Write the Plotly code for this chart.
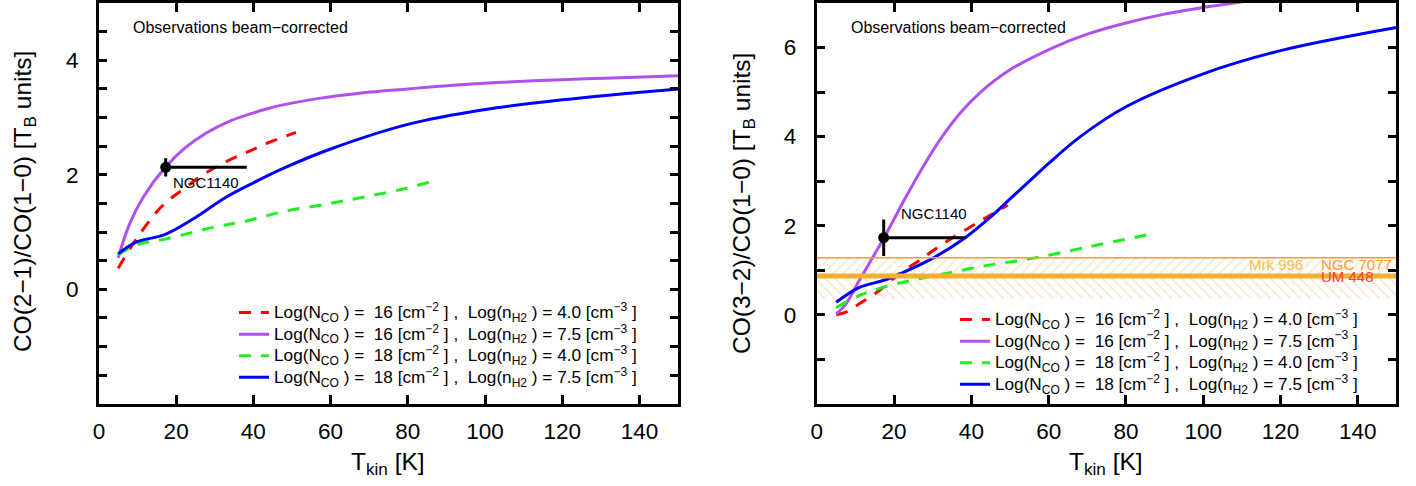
import plotly.graph_objects as go

FONT = "Liberation Sans, Arial, Helvetica, sans-serif"
W, H = 1416, 486

# ---------------- data ----------------
# Left panel: CO(2-1)/CO(1-0)
t21_red = [5, 9.4, 16.3, 22.1, 26.7, 32.4, 38.2, 43.9, 51]
r21_red = [0.37, 0.85, 1.45, 1.76, 1.99, 2.21, 2.39, 2.56, 2.74]
t21_purple = [5, 7.7, 11.6, 17.2, 22.3, 27.8, 33.6, 40, 45, 56.6, 68, 80, 91, 103, 114, 126, 137, 150]
r21_purple = [0.55, 1.10, 1.62, 2.13, 2.47, 2.73, 2.93, 3.08, 3.18, 3.33, 3.43, 3.50, 3.56, 3.61, 3.645, 3.675, 3.70, 3.73]
t21_green = [5, 10, 18, 30, 38, 48, 60, 70, 80, 87.5]
r21_green = [0.60, 0.78, 0.89, 1.09, 1.19, 1.36, 1.50, 1.63, 1.77, 1.91]
t21_blue = [5, 9.5, 17.2, 24.9, 32.7, 40, 48, 60, 80, 100, 120, 150]
r21_blue = [0.62, 0.82, 0.96, 1.25, 1.60, 1.86, 2.12, 2.45, 2.88, 3.14, 3.31, 3.50]

# Right panel: CO(3-2)/CO(1-0)
t32_red = [5, 7.5, 10.9, 16.1, 21.2, 26.4, 32.4, 39.3, 44.4, 49.4]
r32_red = [0.0, 0.06, 0.24, 0.54, 0.91, 1.21, 1.58, 1.95, 2.21, 2.46]
t32_purple = [5, 7.5, 10.9, 14.4, 17.4, 22.9, 27, 31.8, 37, 42.4, 50, 61.2, 70, 80, 90, 100, 108, 112]
r32_purple = [0.02, 0.24, 0.76, 1.28, 1.73, 2.62, 3.25, 3.92, 4.52, 5.0, 5.5, 6.0, 6.3, 6.55, 6.75, 6.9, 7.0, 7.05]
t32_green = [5, 10.9, 16.9, 23.8, 32.4, 43.6, 55.3, 70.6, 87]
r32_green = [0.16, 0.43, 0.61, 0.76, 0.91, 1.10, 1.26, 1.53, 1.82]
t32_blue = [5, 10.9, 17.6, 22.1, 29.8, 38.4, 45.3, 50, 55, 60, 68.2, 80, 100, 120, 150]
r32_blue = [0.28, 0.61, 0.78, 0.94, 1.26, 1.73, 2.22, 2.6, 3.0, 3.4, 4.0, 4.67, 5.41, 5.93, 6.45]

# NGC1140 observation
obs_name = "NGC1140"
obs_t = 17.3
obs_t_err_plus = 21.0
obs_t_err_minus = 0.0
obs_r21, obs_r21_err = 2.13, 0.16
obs_r32, obs_r32_err = 1.73, 0.41

# Other galaxies (CO(3-2)/CO(1-0))
ngc7077_r32 = 1.28
um448_r32 = 0.87
mrk996_upper_band = [um448_r32, 1.28]
mrk996_lower_band = [0.36, um448_r32]
band_labels = ["Mrk 996", "NGC 7077", "UM 448"]

LEG_FS = 17.2
def leg(s):
    return f'<span style="font-size:{LEG_FS}px">{s}</span>'

legend_names = [
    leg("Log(N<sub>CO</sub> ) =  16 [cm<sup>−2</sup> ] ,  Log(n<sub>H2</sub> ) = 4.0 [cm<sup>−3</sup> ]"),
    leg("Log(N<sub>CO</sub> ) =  16 [cm<sup>−2</sup> ] ,  Log(n<sub>H2</sub> ) = 7.5 [cm<sup>−3</sup> ]"),
    leg("Log(N<sub>CO</sub> ) =  18 [cm<sup>−2</sup> ] ,  Log(n<sub>H2</sub> ) = 4.0 [cm<sup>−3</sup> ]"),
    leg("Log(N<sub>CO</sub> ) =  18 [cm<sup>−2</sup> ] ,  Log(n<sub>H2</sub> ) = 7.5 [cm<sup>−3</sup> ]"),
]
x_range = [0, 150]
x_ticks = [0, 20, 40, 60, 80, 100, 120, 140]
y21_range = [-2, 5]
y32_range = [-2, 7]

# ---------------- styling ----------------
RED, PURPLE, GREEN, BLUE = "#FF0000", "#B050F0", "#22EE22", "#0000FF"
styles = [
    dict(color=RED, width=3, dash="12px,10px"),
    dict(color=PURPLE, width=3, dash="solid"),
    dict(color=GREEN, width=3, dash="12px,10px"),
    dict(color=BLUE, width=3, dash="solid"),
]
TITLE_FS = 24.5
TICK_FS = 22.5

fig = go.Figure()

# hatched bands (right panel)
for band, pat in [(mrk996_upper_band, "/"), (mrk996_lower_band, "\\")]:
    fig.add_trace(go.Scatter(
        x=[x_range[0], x_range[1], x_range[1], x_range[0], x_range[0]],
        y=[band[0], band[0], band[1], band[1], band[0]],
        xaxis="x2", yaxis="y2", mode="lines", fill="toself",
        fillcolor="rgba(0,0,0,0)", line=dict(width=0),
        fillpattern=dict(shape=pat, fgcolor="rgba(245,160,70,0.65)", size=7, solidity=0.18),
        showlegend=False, hoverinfo="skip"))

left_data = [(t21_red, r21_red), (t21_purple, r21_purple), (t21_green, r21_green), (t21_blue, r21_blue)]
right_data = [(t32_red, r32_red), (t32_purple, r32_purple), (t32_green, r32_green), (t32_blue, r32_blue)]

for (t, r), st, nm in zip(left_data, styles, legend_names):
    fig.add_trace(go.Scatter(x=t, y=r, mode="lines", name=nm, line=dict(shape="spline", smoothing=1.0, **st),
                             xaxis="x", yaxis="y", legend="legend"))
for (t, r), st, nm in zip(right_data, styles, legend_names):
    fig.add_trace(go.Scatter(x=t, y=r, mode="lines", name=nm, line=dict(shape="spline", smoothing=1.0, **st),
                             xaxis="x2", yaxis="y2", legend="legend2"))

# reference lines on right panel
fig.add_trace(go.Scatter(x=x_range, y=[ngc7077_r32] * 2, mode="lines", xaxis="x2", yaxis="y2",
                         line=dict(color="#FF9A2E", width=1.3), showlegend=False, hoverinfo="skip"))
fig.add_trace(go.Scatter(x=x_range, y=[um448_r32] * 2, mode="lines", xaxis="x2", yaxis="y2",
                         line=dict(color="#F0B030", width=5), showlegend=False, hoverinfo="skip"))

# observations
for ax, ay, val, err in [("x", "y", obs_r21, obs_r21_err), ("x2", "y2", obs_r32, obs_r32_err)]:
    fig.add_trace(go.Scatter(
        x=[obs_t], y=[val], mode="markers", xaxis=ax, yaxis=ay, showlegend=False,
        marker=dict(color="black", size=11, symbol="circle"),
        error_x=dict(type="data", symmetric=False, array=[obs_t_err_plus], arrayminus=[obs_t_err_minus],
                     color="black", thickness=3, width=0),
        error_y=dict(type="data", array=[err], color="black", thickness=3, width=0)))

XD1 = [93.3 / W, 675 / W]
XD2 = [814.3 / W, 1396.3 / W]
YD = [1 - 403.5 / H, 1 - 1 / H]

def xax(domain, anchor):
    return dict(domain=domain, anchor=anchor, range=x_range, tickvals=x_ticks, ticks="inside",
                ticklen=9, tickwidth=3, tickcolor="black", showline=True, linewidth=3, linecolor="black",
                mirror="ticks", showgrid=False, zeroline=False, ticklabelstandoff=5,
                tickfont=dict(family=FONT, size=TICK_FS, color="black"))

def yax(domain, anchor, rng, tv, labels):
    tt = [(str(int(v)) if v in labels else "") for v in tv]
    return dict(domain=domain, anchor=anchor, range=rng, tickvals=tv, ticktext=tt, ticks="inside",
                ticklen=8, tickwidth=3, tickcolor="black", showline=True, linewidth=3, linecolor="black",
                mirror="ticks", showgrid=False, zeroline=False, ticklabelstandoff=13,
                tickfont=dict(family=FONT, size=TICK_FS, color="black"))

y21_ticks = [-1.5 + 0.5 * i for i in range(13)]
y32_ticks = [-1 + i for i in range(8)]

legend_common = dict(xanchor="left", yanchor="top", bgcolor="rgba(0,0,0,0)", borderwidth=0,
                     font=dict(family=FONT, size=14.3, color="black"), tracegroupgap=0)

def ann(x, y, text, size, color="black", xanchor="center", yanchor="middle", xref="paper", yref="paper", angle=0):
    return dict(x=x, y=y, xref=xref, yref=yref, text=text, showarrow=False, xanchor=xanchor, yanchor=yanchor,
                textangle=angle, font=dict(family=FONT, size=size, color=color))

annotations = [
    ann(18 / W, 1 - 200 / H, "CO(2−1)/CO(1−0) [T<sub>B</sub> units]", TITLE_FS, angle=-90),
    ann(740 / W, 1 - 202 / H, "CO(3−2)/CO(1−0) [T<sub>B</sub> units]", TITLE_FS, angle=-90),
    ann(384 / W, 1 - 463 / H, "T<sub>kin</sub> [K]", TITLE_FS),
    ann(1105 / W, 1 - 463 / H, "T<sub>kin</sub> [K]", TITLE_FS),
    ann(126 / W, 1 - 26 / H, "Observations beam−corrected", 16, xanchor="left"),
    ann(847 / W, 1 - 26 / H, "Observations beam−corrected", 16, xanchor="left"),
    ann(18.6, 1.86, obs_name, 15, xanchor="left", xref="x", yref="y"),
    ann(21.2, 2.27, obs_name, 15, xanchor="left", xref="x2", yref="y2"),
    ann(126.4, 1.13, band_labels[0], 15, color="#F5BE45", xanchor="right", xref="x2", yref="y2"),
    ann(130.1, 1.13, band_labels[1], 15, color="#FF9A2E", xanchor="left", xref="x2", yref="y2"),
    ann(130.1, 0.87, band_labels[2], 15, color="#FF3B3B", xanchor="left", xref="x2", yref="y2"),
]

fig.update_layout(
    width=W, height=H, margin=dict(l=0, r=0, t=0, b=0),
    paper_bgcolor="white", plot_bgcolor="white",
    font=dict(family=FONT, color="black"),
    xaxis=xax(XD1, "y"), yaxis=yax(YD, "x", y21_range, y21_ticks, [0, 2, 4]),
    xaxis2=xax(XD2, "y2"), yaxis2=yax(YD, "x2", y32_range, y32_ticks, [0, 2, 4, 6]),
    legend=dict(x=229 / W, y=1 - 296 / H, **legend_common),
    legend2=dict(x=953 / W, y=1 - 303 / H, **legend_common),
    annotations=annotations,
    hovermode=False,
)

fig.write_html("out.html", config={"displayModeBar": False},
               post_script="document.body.style.margin='0';document.body.style.padding='0';"
                           "document.documentElement.style.overflow='hidden';")
